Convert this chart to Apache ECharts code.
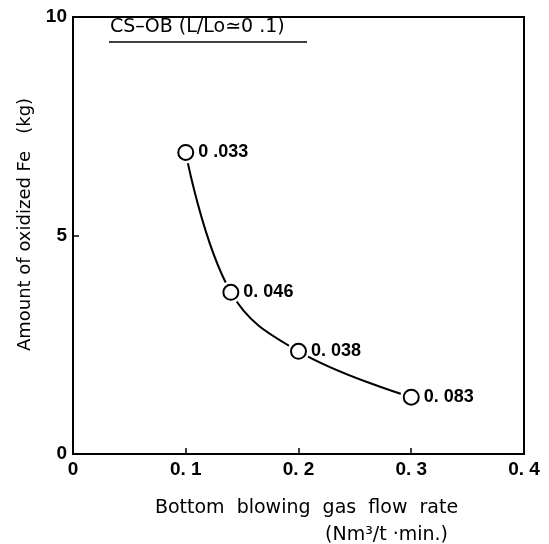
<!DOCTYPE html>
<html>
<head>
<meta charset="utf-8">
<script src="https://cdn.jsdelivr.net/npm/echarts@6/dist/echarts.min.js"></script>
<style>
  html, body { margin: 0; padding: 0; background: #fff; }
  #main { width: 549px; height: 544px; }
</style>
</head>
<body>
<div id="main"></div>
<script>
  // gas flow rate (Nm3/t.min) and oxidized Fe (kg)
  var flowRate = [0.1, 0.14, 0.2, 0.3];
  var oxidizedFe = [6.9, 3.7, 2.35, 1.3];
  var pointLabels = ['0 .033', '0. 046', '0. 038', '0. 083'];
  var xTicks = ['0', '0. 1', '0. 2', '0. 3', '0. 4'];

  var font = '"Liberation Sans Narrow", "Liberation Sans", Arial, sans-serif';
  var pts = flowRate.map(function (x, i) { return [x, oxidizedFe[i]]; });

  var chart = echarts.init(document.getElementById('main'));
  chart.setOption({
    animation: false,
    grid: {
      left: 73, right: 25, top: 17, bottom: 90,
      show: true, borderColor: '#000', borderWidth: 2
    },
    xAxis: {
      type: 'value', min: 0, max: 0.4, interval: 0.1,
      axisLine: { lineStyle: { color: '#000', width: 2 } },
      axisTick: { inside: true, length: 6, lineStyle: { color: '#000', width: 1.5 } },
      splitLine: { show: false },
      axisLabel: {
        color: '#000', fontFamily: font, fontWeight: 'bold', fontSize: 19, margin: 6,
        formatter: function (v) { return xTicks[Math.round(v * 10)]; }
      },
      name: 'Bottom  blowing  gas  flow  rate',
      nameLocation: 'middle', nameGap: 45,
      nameTextStyle: { color: '#000', fontFamily: '"DejaVu Sans", sans-serif', fontSize: 19, padding: [0, 0, 0, 16] }
    },
    yAxis: {
      type: 'value', min: 0, max: 10, interval: 5,
      axisLine: { lineStyle: { color: '#000', width: 2 } },
      axisTick: { inside: true, length: 6, lineStyle: { color: '#000', width: 1.5 } },
      splitLine: { show: false },
      axisLabel: { color: '#000', fontFamily: font, fontWeight: 'bold', fontSize: 19, margin: 6 },
      name: 'Amount of oxidized Fe   (kg)',
      nameLocation: 'middle', nameGap: 39, nameRotate: 90,
      nameTextStyle: { color: '#000', fontFamily: '"DejaVu Sans", sans-serif', fontSize: 18, padding: [0, 0, 0, 22] }
    },
    graphic: [
      {
        type: 'text', left: 110, top: 18,
        style: { text: 'CS\u2013OB (L/Lo\u22430 .1)', fill: '#000', font: '19px "DejaVu Sans", sans-serif' }
      },
      {
        type: 'line', shape: { x1: 109, y1: 42, x2: 307, y2: 42 },
        style: { stroke: '#000', lineWidth: 1.5 }
      },
      {
        type: 'text', left: 325, top: 526,
        style: { text: '(Nm\u00b3/t \u00b7min.)', fill: '#000', font: '19px "DejaVu Sans", sans-serif' }
      }
    ],
    series: [
      {
        type: 'line', data: pts, smooth: 0.4,
        symbol: 'none', lineStyle: { color: '#000', width: 2 }, z: 2
      },
      {
        // white halo so the curve stops short of each circle
        type: 'scatter', data: pts, symbol: 'circle', symbolSize: 22,
        itemStyle: { color: '#fff', opacity: 1 }, silent: true, z: 3
      },
      {
        type: 'scatter', data: pts, symbol: 'circle', symbolSize: 15,
        itemStyle: { color: '#fff', borderColor: '#000', borderWidth: 2, opacity: 1 },
        label: {
          show: true, position: 'right', distance: 4,
          color: '#000', fontFamily: font, fontWeight: 'bold', fontSize: 18,
          formatter: function (p) { return pointLabels[p.dataIndex]; }
        },
        z: 4
      }
    ]
  });
</script>
</body>
</html>
